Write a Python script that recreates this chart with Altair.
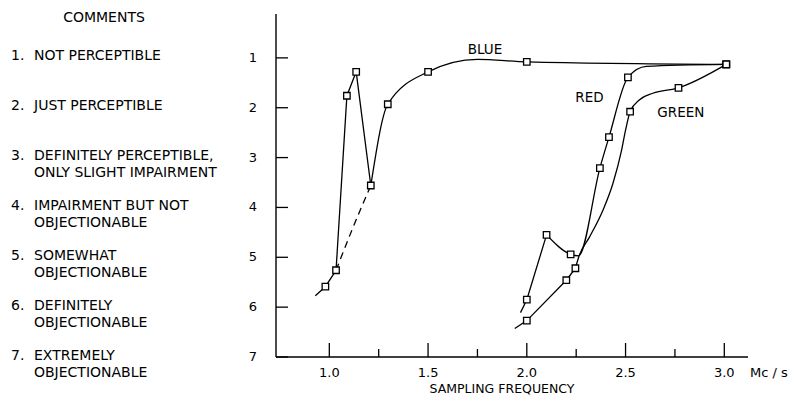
import altair as alt
import pandas as pd

# ---------------- data ----------------
# BLUE
blue_lin_x = [0.929, 0.98, 1.034, 1.089, 1.136, 1.21]
blue_lin_y = [5.77, 5.59, 5.26, 1.76, 1.28, 3.56]
blue_smooth_x = [1.21, 1.296, 1.5, 1.75, 2.0, 3.01]
blue_smooth_y = [3.56, 1.93, 1.28, 1.03, 1.08, 1.13]
blue_dash_x = [1.034, 1.115, 1.21]
blue_dash_y = [5.26, 4.45, 3.56]
blue_mark_x = [0.98, 1.034, 1.089, 1.136, 1.21, 1.296, 1.5, 2.0, 3.01]
blue_mark_y = [5.59, 5.26, 1.76, 1.28, 3.56, 1.93, 1.28, 1.08, 1.13]

# RED
red_lin_x = [1.968, 2.0, 2.1]
red_lin_y = [6.11, 5.85, 4.55]
red_smooth_x = [2.1, 2.222, 2.262, 2.37, 2.416, 2.512, 2.605, 3.01]
red_smooth_y = [4.55, 4.94, 4.97, 3.21, 2.59, 1.39, 1.17, 1.13]
red_mark_x = [2.0, 2.1, 2.222, 2.37, 2.416, 2.512, 3.01]
red_mark_y = [5.85, 4.55, 4.94, 3.21, 2.59, 1.39, 1.13]

# GREEN
green_lin_x = [1.939, 2.0, 2.2, 2.246]
green_lin_y = [6.43, 6.27, 5.46, 5.22]
green_smooth_x = [2.246, 2.265, 2.318, 2.386, 2.436, 2.48, 2.5, 2.523, 2.571, 2.638, 2.768, 3.01]
green_smooth_y = [5.22, 4.97, 4.59, 4.05, 3.52, 2.85, 2.45, 2.08, 1.84, 1.71, 1.60, 1.13]
green_mark_x = [2.0, 2.2, 2.246, 2.523, 2.768, 3.01]
green_mark_y = [6.27, 5.46, 5.22, 2.08, 1.60, 1.13]

# curve labels
curve_names = ["BLUE", "RED", "GREEN"]
curve_label_x = [1.788, 2.317, 2.78]
curve_label_y = [0.84, 1.81, 2.11]

# y scale comments
comment_vals = [1, 2, 3, 4, 5, 6, 7]
comment_nums = ["1.", "2.", "3.", "4.", "5.", "6.", "7."]
comment_line1 = ["NOT PERCEPTIBLE", "JUST PERCEPTIBLE", "DEFINITELY PERCEPTIBLE,",
                 "IMPAIRMENT BUT NOT", "SOMEWHAT", "DEFINITELY", "EXTREMELY"]
comment_line2 = ["", "", "ONLY SLIGHT IMPAIRMENT", "OBJECTIONABLE",
                 "OBJECTIONABLE", "OBJECTIONABLE", "OBJECTIONABLE"]

# ticks
y_tick_vals = [1, 2, 3, 4, 5, 6, 7]
x_major_vals = [1.0, 1.5, 2.0, 2.5, 3.0]
x_minor_vals = [1.25, 1.75, 2.25, 2.75]

# ---------------- tables ----------------
def seg(name, xs, ys):
    return pd.DataFrame({"x": xs, "y": ys, "seg": name})

df_lin = pd.concat([seg("blue", blue_lin_x, blue_lin_y),
                    seg("red", red_lin_x, red_lin_y),
                    seg("green", green_lin_x, green_lin_y)])
df_smooth = pd.concat([seg("blue", blue_smooth_x, blue_smooth_y),
                       seg("red", red_smooth_x, red_smooth_y),
                       seg("green", green_smooth_x, green_smooth_y)])
df_dash = seg("blue", blue_dash_x, blue_dash_y)
df_marks = pd.concat([seg("blue", blue_mark_x, blue_mark_y),
                      seg("red", red_mark_x, red_mark_y),
                      seg("green", green_mark_x, green_mark_y)])
df_labels = pd.DataFrame({"x": curve_label_x, "y": curve_label_y, "t": curve_names})
df_comments = pd.DataFrame({"v": comment_vals, "n": comment_nums,
                            "l1": comment_line1, "l2": comment_line2})
df_ylab = pd.DataFrame({"v": y_tick_vals})
df_xmaj = pd.DataFrame({"v": x_major_vals})
df_xmin = pd.DataFrame({"v": x_minor_vals})

W, H = 472, 343
FONT = "DejaVu Sans"
xs = alt.Scale(domain=[0.73, 3.12], nice=False, zero=False)
ys = alt.Scale(domain=[0.12, 7], reverse=True, nice=False, zero=False)

X = lambda f="x": alt.X(f + ":Q", scale=xs, axis=None)
Y = lambda f="y": alt.Y(f + ":Q", scale=ys, axis=None)

lines_lin = alt.Chart(df_lin).mark_line(interpolate="linear", color="black", strokeWidth=1.3).encode(
    x=X(), y=Y(), detail="seg:N")
lines_smooth = alt.Chart(df_smooth).mark_line(interpolate="monotone", color="black", strokeWidth=1.3).encode(
    x=X(), y=Y(), detail="seg:N")
lines_dash = alt.Chart(df_dash).mark_line(interpolate="monotone", color="black", strokeWidth=1.3,
                                           strokeDash=[7, 5]).encode(x=X(), y=Y())
marks = alt.Chart(df_marks).mark_point(shape="square", size=42, filled=True, fill="white",
                                       stroke="black", strokeWidth=1.3, opacity=1).encode(x=X(), y=Y())
labels = alt.Chart(df_labels).mark_text(font=FONT, fontSize=13.5, color="black", align="center",
                                        baseline="middle").encode(x=X(), y=Y(), text="t:N")

# axis lines
ydomain = alt.Chart(df_ylab.head(1)).mark_rule(color="black", strokeWidth=1.4).encode(
    x=alt.value(0), y=alt.value(0), y2=alt.value(H))
xdomain = alt.Chart(df_ylab.head(1)).mark_rule(color="black", strokeWidth=1.4).encode(
    x=alt.value(0), x2=alt.value(W), y=alt.value(H))

# inward ticks drawn as line-shaped symbols (half-length = sqrt(size)/2)
yticks = alt.Chart(df_ylab).mark_point(shape="M0,0L1,0", size=576, filled=False, color="black",
                                       strokeWidth=1.3, opacity=1).encode(
    y=Y("v"), x=alt.value(0))
xmaj = alt.Chart(df_xmaj).mark_point(shape="M0,0L0,-1", size=784, filled=False, color="black",
                                     strokeWidth=1.3, opacity=1).encode(
    x=X("v"), y=alt.value(H))
xmin = alt.Chart(df_xmin).mark_point(shape="M0,0L0,-1", size=256, filled=False, color="black",
                                     strokeWidth=1.3, opacity=1).encode(
    x=X("v"), y=alt.value(H))

# tick labels and axis title
ylabels = alt.Chart(df_ylab).mark_text(font=FONT, fontSize=13, color="black", align="right",
                                       baseline="middle").encode(
    y=Y("v"), x=alt.value(-19), text=alt.Text("v:Q", format="d"))
xlabels = alt.Chart(df_xmaj).mark_text(font=FONT, fontSize=13, color="black", align="center",
                                       baseline="middle").encode(
    x=X("v"), y=alt.value(H + 16), text=alt.Text("v:Q", format=".1f"))
xtitle = alt.Chart(df_ylab.head(1)).mark_text(font=FONT, fontSize=12.5, color="black",
                                              align="center", baseline="middle").encode(
    x=alt.value(226), y=alt.value(H + 32), text=alt.value("SAMPLING FREQUENCY"))
unit = alt.Chart(df_ylab.head(1)).mark_text(font=FONT, fontSize=13, color="black",
                                            align="center", baseline="middle").encode(
    x=alt.value(493), y=alt.value(H + 16), text=alt.value("Mc / s"))

# comments column
cnum = alt.Chart(df_comments).mark_text(font=FONT, fontSize=14, color="black", align="left",
                                        baseline="middle", dy=-1.5).encode(
    y=Y("v"), x=alt.value(-265), text="n:N")
cl1 = alt.Chart(df_comments).mark_text(font=FONT, fontSize=14, color="black", align="left",
                                       baseline="middle", dy=-1.5).encode(
    y=Y("v"), x=alt.value(-242), text="l1:N")
cl2 = alt.Chart(df_comments).mark_text(font=FONT, fontSize=14, color="black", align="left",
                                       baseline="middle", dy=15.5).encode(
    y=Y("v"), x=alt.value(-242), text="l2:N")
chead = alt.Chart(df_ylab.head(1)).mark_text(font=FONT, fontSize=14, color="black",
                                             align="center", baseline="middle").encode(
    x=alt.value(-172), y=alt.value(4), text=alt.value("COMMENTS"))

chart = alt.layer(ydomain, xdomain, yticks, xmaj, xmin,
                  lines_lin, lines_smooth, lines_dash, marks, labels,
                  ylabels, xlabels, xtitle, unit, cnum, cl1, cl2, chead).properties(
    width=W, height=H, autosize=alt.AutoSizeParams(type="none"),
    padding={"left": 276, "top": 14, "right": 50, "bottom": 48},
    background="white",
).configure_view(stroke=None)

chart.save("out.html", embed_options={"renderer": "svg", "actions": False})
